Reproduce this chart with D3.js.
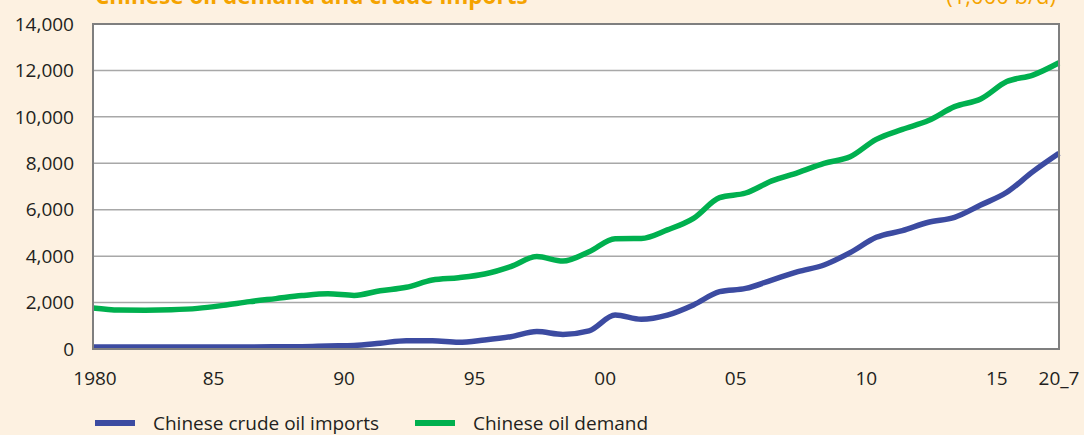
<!doctype html>
<html>
  <head>
    <meta charset='UTF-8'>
    <script src="https://d3js.org/d3.v7.min.js"></script>
    <style>
      body { margin: 0; background: #fdf1e1; }
      text { font-family: "Open Sans", "Noto Sans", sans-serif; fill: #231f20; }
    </style>
  </head>
  <body>
    <svg id='render' width='1084' height='435'></svg>
    <script>
      // data (1,000 b/d)
      const years = d3.range(1980, 2018);
      const imports = [90, 90, 90, 90, 90, 90, 90, 95, 100, 130, 150, 250, 360, 360, 290, 390,
                       530, 750, 630, 780, 1460, 1280, 1460, 1900, 2470, 2610, 2970, 3330, 3620, 4150,
                       4810, 5100, 5460, 5670, 6200, 6750, 7640, 8430];
      const demand = [1770, 1680, 1670, 1690, 1750, 1880, 2040, 2170, 2300, 2380, 2310, 2510, 2660, 2970, 3070, 3230,
                      3550, 3980, 3790, 4190, 4750, 4760, 5130, 5630, 6520, 6720, 7240, 7600, 8000, 8280,
                      9030, 9460, 9840, 10440, 10770, 11520, 11800, 12330];
      const yTicks = [0, 2000, 4000, 6000, 8000, 10000, 12000, 14000];
      const xTicks = [1980, 1985, 1990, 1995, 2000, 2005, 2010, 2015, 2017];
      const xLabels = ["1980", "85", "90", "95", "00", "05", "10", "15", "20_7"];
      const seriesNames = ["Chinese crude oil imports", "Chinese oil demand"];
      const colors = ["#3c4ba1", "#00b04f"];

      const svg = d3.select("#render");
      const plotL = 93, plotR = 1059, plotT = 24, plotB = 349;

      const x = d3.scaleLinear().domain([1980, 2017]).range([plotL, plotR]);
      const y = d3.scaleLinear().domain([0, 14000]).range([plotB, plotT]);

      // title and unit (cut by the top edge, as in the source picture)
      svg.append("text").attr("x", 95).attr("y", 4)
        .style("fill", "#f5a300").style("font-weight", "bold").style("font-size", "22.5px")
        .text("Chinese oil demand and crude imports");
      svg.append("text").attr("x", 1056).attr("y", 4).attr("text-anchor", "end")
        .style("fill", "#f5a300").style("font-size", "22px")
        .text("(1,000 b/d)");

      svg.append("rect").attr("x", plotL).attr("y", plotT)
        .attr("width", plotR - plotL).attr("height", plotB - plotT)
        .attr("fill", "#ffffff");

      svg.selectAll("line.grid").data(yTicks.slice(1, -1))
        .enter().append("line").attr("class", "grid")
        .attr("x1", plotL).attr("x2", plotR)
        .attr("y1", d => y(d)).attr("y2", d => y(d))
        .attr("stroke", "#a8a8a8").attr("stroke-width", 1.5);

      svg.selectAll("text.ylab").data(yTicks)
        .enter().append("text").attr("class", "ylab")
        .attr("x", 74).attr("y", d => y(d)).attr("dy", "0.35em")
        .attr("text-anchor", "end").style("font-size", "19px")
        .text(d => d3.format(",")(d));

      svg.selectAll("text.xlab").data(xTicks)
        .enter().append("text").attr("class", "xlab")
        .attr("x", d => x(d)).attr("y", 385)
        .attr("dx", (d, i) => i === 0 ? 2 : (i === xTicks.length - 1 ? 0 : -10))
        .attr("text-anchor", "middle").style("font-size", "19px")
        .text((d, i) => xLabels[i]);

      const line = d3.line().x((d, i) => x(years[i])).y(d => y(d)).curve(d3.curveMonotoneX);
      [imports, demand].forEach((s, k) => {
        svg.append("path").datum(s)
          .attr("d", line).attr("fill", "none")
          .attr("stroke", colors[k]).attr("stroke-width", 5.5)
          .attr("stroke-linejoin", "round");
      });

      // frame
      svg.append("rect").attr("x", plotL).attr("y", plotT)
        .attr("width", plotR - plotL).attr("height", plotB - plotT)
        .attr("fill", "none").attr("stroke", "#7f7f7f").attr("stroke-width", 2);

      // legend
      const legX = [95, 415];
      seriesNames.forEach((n, k) => {
        svg.append("line").attr("x1", legX[k]).attr("x2", legX[k] + 40)
          .attr("y1", 423).attr("y2", 423)
          .attr("stroke", colors[k]).attr("stroke-width", 6);
        svg.append("text").attr("x", legX[k] + 58).attr("y", 423).attr("dy", "0.35em")
          .style("font-size", "19px").text(n);
      });
    </script>
  </body>
</html>
